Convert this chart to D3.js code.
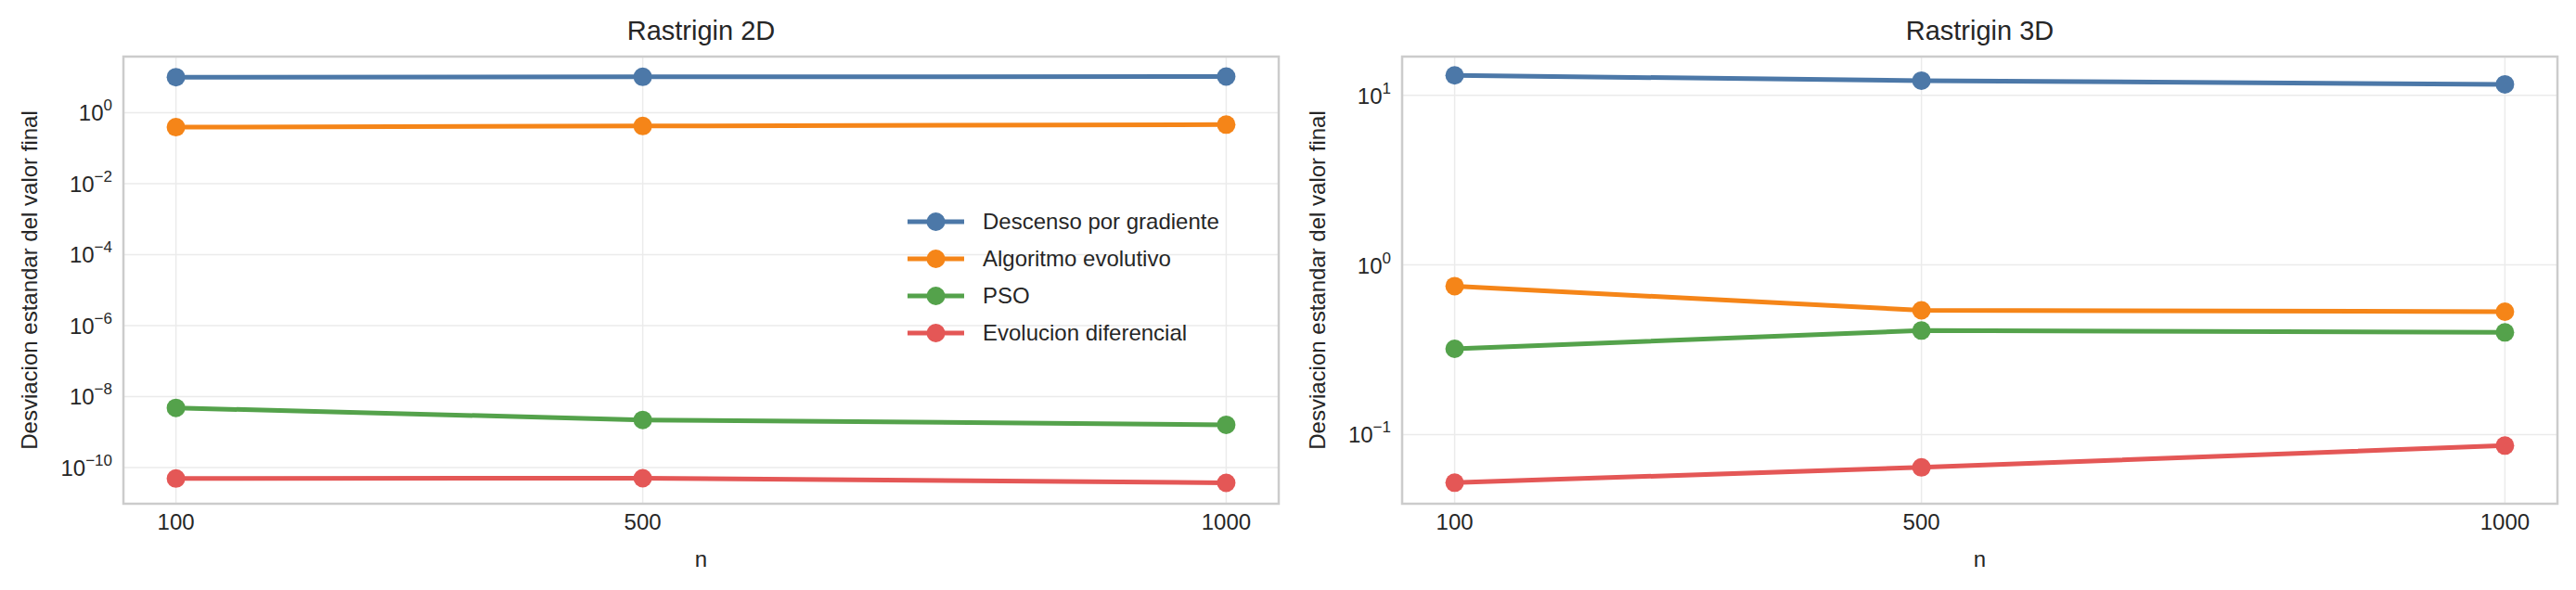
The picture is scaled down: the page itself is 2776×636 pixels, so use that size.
<!DOCTYPE html>
<html><head><meta charset="utf-8">
<script src="https://cdn.jsdelivr.net/npm/d3@7"></script>
<style>body{margin:0;background:#fff}text{font-family:"Liberation Sans",Arial,sans-serif;fill:#262626}</style>
</head><body>
<svg id="c" width="2776" height="636"></svg>
<script>
const nValues = [100, 500, 1000];
const xTickLabels = ["100", "500", "1000"];
const seriesNames = ["Descenso por gradiente", "Algoritmo evolutivo", "PSO", "Evolucion diferencial"];
const seriesColors = ["#4c78a8", "#f58518", "#54a24b", "#e45756"];
const titles = ["Rastrigin 2D", "Rastrigin 3D"];
const vals2D = [
  [10.0, 10.2, 10.4],
  [0.39, 0.42, 0.46],
  [4.8e-9, 2.2e-9, 1.6e-9],
  [4.9e-11, 5.0e-11, 3.7e-11]
];
const vals3D = [
  [13.1, 12.2, 11.6],
  [0.75, 0.54, 0.53],
  [0.32, 0.41, 0.40],
  [0.052, 0.064, 0.086]
];
const yTicks2D = [0, -2, -4, -6, -8, -10];
const yTicks3D = [1, 0, -1];
const yDomain2D = [Math.pow(10, -11.02), Math.pow(10, 1.58)];
const yDomain3D = [Math.pow(10, -1.408), Math.pow(10, 1.228)];

const svg = d3.select("#c");
const panels = [
  {x0: 133, x1: 1378, vals: vals2D, ticks: yTicks2D, dom: yDomain2D, title: titles[0], ylx: 32, legend: true},
  {x0: 1511, x1: 2756, vals: vals3D, ticks: yTicks3D, dom: yDomain3D, title: titles[1], ylx: 1420, legend: false}
];
const plotTop = 61, plotBottom = 543;
panels.forEach(p => {
  const g = svg.append("g");
  const x = d3.scaleLinear().domain([55, 1045]).range([p.x0, p.x1]);
  const y = d3.scaleLog().domain(p.dom).range([plotBottom, plotTop]);
  g.selectAll(".gx").data(nValues).join("line").attr("x1", d => x(d)).attr("x2", d => x(d))
    .attr("y1", plotTop).attr("y2", plotBottom).attr("stroke", "#ebebeb").attr("stroke-width", 1.5);
  g.selectAll(".gy").data(p.ticks).join("line").attr("x1", p.x0).attr("x2", p.x1)
    .attr("y1", d => y(Math.pow(10, d))).attr("y2", d => y(Math.pow(10, d))).attr("stroke", "#ebebeb").attr("stroke-width", 1.5);
  g.append("rect").attr("x", p.x0).attr("y", plotTop).attr("width", p.x1 - p.x0).attr("height", plotBottom - plotTop)
    .attr("fill", "none").attr("stroke", "#cccccc").attr("stroke-width", 2.5);
  g.selectAll(".xt").data(nValues).join("text").attr("x", d => x(d)).attr("y", 571)
    .attr("text-anchor", "middle").attr("font-size", 24).text((d, i) => xTickLabels[i]);
  p.ticks.forEach(t => {
    const tx = g.append("text").attr("x", p.x0 - 12).attr("y", y(Math.pow(10, t)) + 9)
      .attr("text-anchor", "end").attr("font-size", 24);
    tx.append("tspan").text("10");
    tx.append("tspan").attr("dy", -11).attr("font-size", 17).text(t < 0 ? "\u2212" + (-t) : String(t));
  });
  g.append("text").attr("x", (p.x0 + p.x1) / 2).attr("y", 611).attr("text-anchor", "middle").attr("font-size", 24).text("n");
  g.append("text").attr("transform", `translate(${p.ylx + 8},${(plotTop + plotBottom) / 2}) rotate(-90)`)
    .attr("text-anchor", "middle").attr("font-size", 24).text("Desviacion estandar del valor final");
  g.append("text").attr("x", (p.x0 + p.x1) / 2).attr("y", 43).attr("text-anchor", "middle").attr("font-size", 29).text(p.title);
  const line = d3.line().x((d, i) => x(nValues[i])).y(d => y(d));
  p.vals.forEach((s, k) => {
    g.append("path").datum(s).attr("d", line).attr("fill", "none").attr("stroke", seriesColors[k]).attr("stroke-width", 5);
    g.selectAll(null).data(s).join("circle").attr("cx", (d, i) => x(nValues[i])).attr("cy", d => y(d))
      .attr("r", 10).attr("fill", seriesColors[k]);
  });
  if (p.legend) {
    seriesNames.forEach((nm, k) => {
      const ly = 239 + k * 40;
      g.append("line").attr("x1", 978).attr("x2", 1039).attr("y1", ly).attr("y2", ly).attr("stroke", seriesColors[k]).attr("stroke-width", 5);
      g.append("circle").attr("cx", 1008.5).attr("cy", ly).attr("r", 10).attr("fill", seriesColors[k]);
      g.append("text").attr("x", 1059).attr("y", ly + 8).attr("font-size", 24).text(nm);
    });
  }
});
</script>
</body></html>
